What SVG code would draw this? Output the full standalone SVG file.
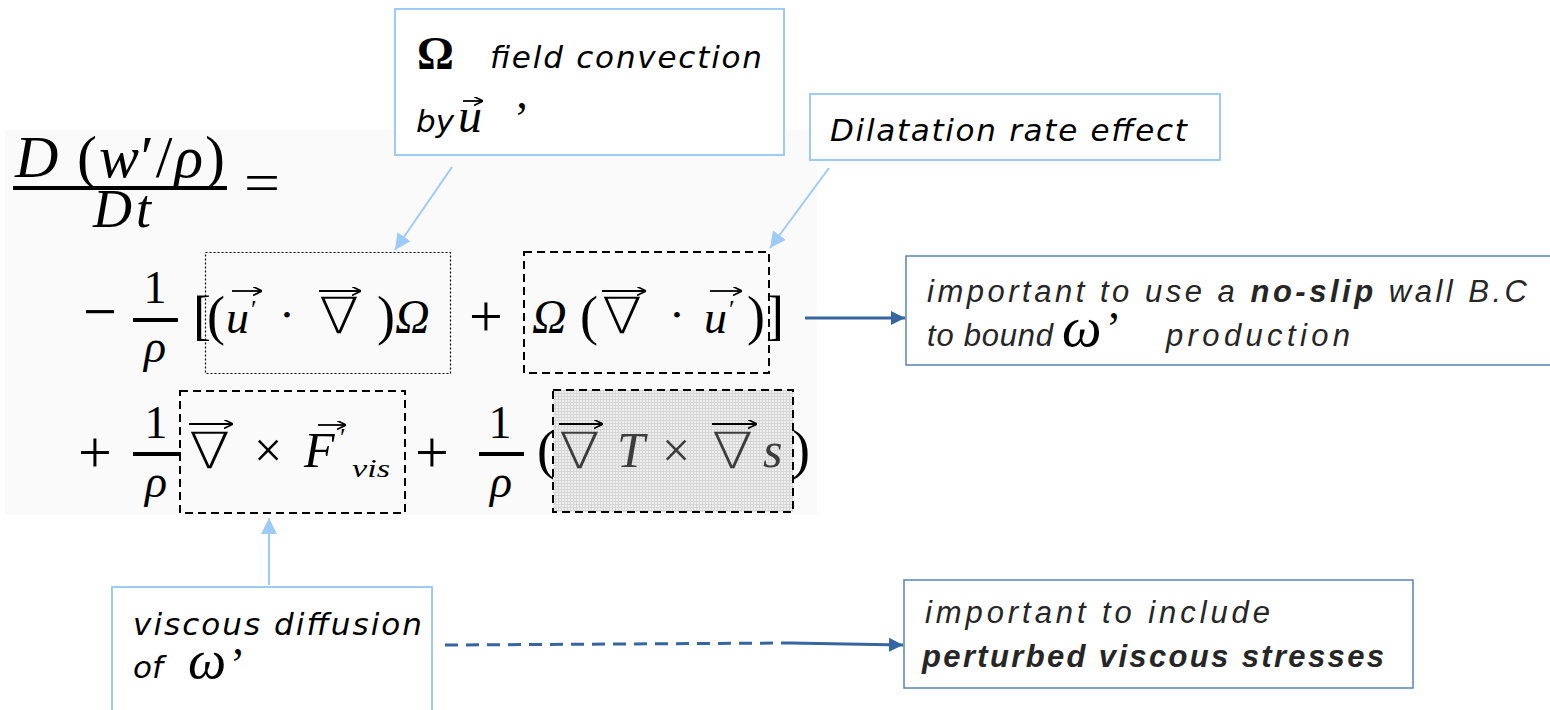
<svg xmlns="http://www.w3.org/2000/svg" width="1550" height="710" viewBox="0 0 1550 710">
  <style>
    .lbl { font-family: "DejaVu Sans", "Liberation Sans", sans-serif; font-style: oblique; font-size: 31px; fill: #000; }
    .note { font-family: "Liberation Sans", "Arial", sans-serif; font-style: italic; font-size: 31px; fill: #262626; }
    .b { font-weight: bold; }
    .m { font-family: "Liberation Serif", "DejaVu Serif", serif; fill: #000; }
    .mi { font-family: "Liberation Serif", "DejaVu Serif", serif; font-style: italic; fill: #000; }
    .nab { font-family: "DejaVu Sans", "Liberation Serif", sans-serif; font-weight: 200; font-size: 50px; }
    .grey { fill: #3c3c3c; }
    .lightbox { fill: #fff; stroke: #9ecbf6; stroke-width: 2; }
    .darkbox { fill: #fff; stroke: #5a82b5; stroke-width: 1.5; }
    .dashbox { fill: none; stroke: #000; stroke-width: 2; stroke-dasharray: 8 5; }
    .dotbox { fill: none; stroke: #000; stroke-width: 1.2; stroke-dasharray: 2 2; }
    .vec { stroke: #000; stroke-width: 1.8; fill: none; }
    .bar { fill: #000; }
    .lc { stroke: #9ecbf6; stroke-width: 2; fill: none; }
    .dc { stroke: #3566a0; stroke-width: 3; fill: none; }
  </style>
  <defs>
    <marker id="headLight" viewBox="0 0 10 10" refX="10" refY="5" markerWidth="16" markerHeight="16" markerUnits="userSpaceOnUse" orient="auto">
      <path d="M0,0 L10,5 L0,10 z" fill="#9ecbf6"/>
    </marker>
    <marker id="headDark" viewBox="0 0 10 10" refX="10" refY="5" markerWidth="14" markerHeight="14" markerUnits="userSpaceOnUse" orient="auto">
      <path d="M0,0 L10,5 L0,10 z" fill="#3566a0"/>
    </marker>
    <marker id="vhead" viewBox="0 0 10 10" refX="10" refY="5" markerWidth="9" markerHeight="9" markerUnits="userSpaceOnUse" orient="auto">
      <path d="M0,0 L10,5 L0,10" fill="none" stroke="#000" stroke-width="1.8"/>
    </marker>
    <pattern id="grid" width="3" height="3" patternUnits="userSpaceOnUse">
      <rect width="3" height="3" fill="#eeeeee"/>
      <path d="M0,0.5 H3 M0.5,0 V3" stroke="#d6d6d6" stroke-width="1"/>
    </pattern>
  </defs>

  <rect width="1550" height="710" fill="#fff"/>

  <!-- equation: D(w'/rho)/Dt = ... -->
  <g id="equation">
    <rect x="5" y="130" width="812" height="385" fill="#fafafa"/>

    <!-- left-hand side -->
    <text class="m" x="15" y="177" font-size="60" textLength="210"><tspan class="mi">D</tspan> (<tspan class="mi">w</tspan>′/<tspan class="mi">ρ</tspan>)</text>
    <rect class="bar" x="13" y="186" width="214" height="4"/>
    <text class="mi" x="93" y="227" font-size="54" textLength="58">Dt</text>
    <text class="m" x="244" y="202" font-size="56" textLength="36" lengthAdjust="spacingAndGlyphs">=</text>

    <!-- row 2 -->
    <text class="m" x="100" y="333" font-size="64" text-anchor="middle" textLength="34" lengthAdjust="spacingAndGlyphs">−</text>
    <text class="m" x="155" y="303" font-size="46" text-anchor="middle">1</text>
    <rect class="bar" x="133" y="318" width="45" height="4"/>
    <text class="mi" x="155" y="362" font-size="46" text-anchor="middle">ρ</text>
    <text class="m" x="193" y="334" font-size="54">[</text>

    <g id="term-convection">
      <text class="m" x="207" y="334" font-size="54">(</text>
      <text class="mi" x="226" y="333" font-size="46">u</text>
      <text class="m" x="251" y="318" font-size="26">′</text>
      <path class="vec" d="M232,291 H262" marker-end="url(#vhead)"/>
      <text class="m" x="287" y="323" font-size="24" text-anchor="middle">•</text>
      <text class="nab" x="319" y="333" textLength="40" lengthAdjust="spacingAndGlyphs">∇</text>
      <path class="vec" d="M319,291 H361" marker-end="url(#vhead)"/>
      <text class="m" x="377" y="334" font-size="54">)</text>
      <text class="mi" x="395" y="333" font-size="48">Ω</text>
      <rect class="dotbox" x="205.5" y="252.5" width="245" height="121"/>
    </g>

    <text class="m" x="486" y="336" font-size="60" text-anchor="middle">+</text>

    <g id="term-dilatation">
      <text class="mi" x="532" y="333" font-size="48">Ω</text>
      <text class="m" x="580" y="334" font-size="54">(</text>
      <text class="nab" x="602" y="333" textLength="40" lengthAdjust="spacingAndGlyphs">∇</text>
      <path class="vec" d="M602,291 H646" marker-end="url(#vhead)"/>
      <text class="m" x="677" y="323" font-size="24" text-anchor="middle">•</text>
      <text class="mi" x="704" y="333" font-size="46">u</text>
      <text class="m" x="729" y="318" font-size="26">′</text>
      <path class="vec" d="M710,291 H742" marker-end="url(#vhead)"/>
      <text class="m" x="747" y="334" font-size="54">)</text>
      <rect class="dashbox" x="524" y="252" width="245" height="121"/>
    </g>
    <text class="m" x="766" y="334" font-size="54">]</text>

    <!-- row 3 -->
    <text class="m" x="95" y="472" font-size="60" text-anchor="middle">+</text>
    <text class="m" x="156" y="438" font-size="46" text-anchor="middle">1</text>
    <rect class="bar" x="133" y="452" width="48" height="4"/>
    <text class="mi" x="156" y="497" font-size="46" text-anchor="middle">ρ</text>

    <g id="term-viscous">
      <text class="nab" x="189" y="468" textLength="41" lengthAdjust="spacingAndGlyphs">∇</text>
      <path class="vec" d="M189,424 H233" marker-end="url(#vhead)"/>
      <text class="m" x="268" y="467" font-size="50" text-anchor="middle">×</text>
      <text class="mi" x="304" y="467" font-size="50">F</text>
      <text class="m" x="340" y="446" font-size="26">′</text>
      <path class="vec" d="M318,425 H346" marker-end="url(#vhead)"/>
      <text class="mi" x="352" y="477" font-size="26" textLength="38" lengthAdjust="spacingAndGlyphs">vis</text>
      <rect class="dashbox" x="180" y="391" width="225" height="122"/>
    </g>

    <text class="m" x="432" y="472" font-size="60" text-anchor="middle">+</text>
    <text class="m" x="500" y="438" font-size="46" text-anchor="middle">1</text>
    <rect class="bar" x="479" y="452" width="45" height="4"/>
    <text class="mi" x="501" y="497" font-size="46" text-anchor="middle">ρ</text>
    <text class="m" x="537" y="468" font-size="54">(</text>

    <g id="term-baroclinic">
      <rect x="553" y="390" width="240" height="122" fill="url(#grid)"/>
      <text class="nab grey" x="559" y="468" textLength="41" lengthAdjust="spacingAndGlyphs">∇</text>
      <path class="vec" d="M559,424 H603" marker-end="url(#vhead)" stroke="#3c3c3c"/>
      <text class="mi grey" x="617" y="467" font-size="50">T</text>
      <text class="m grey" x="676" y="467" font-size="50" text-anchor="middle">×</text>
      <text class="nab grey" x="712" y="468" textLength="41" lengthAdjust="spacingAndGlyphs">∇</text>
      <path class="vec" d="M712,424 H757" marker-end="url(#vhead)" stroke="#3c3c3c"/>
      <text class="mi grey" x="763" y="467" font-size="50">s</text>
      <rect class="dashbox" x="553" y="390" width="240" height="122"/>
    </g>
    <text class="m" x="792" y="468" font-size="54">)</text>
  </g>

  <!-- label: Omega field convection by u' -->
  <g id="label-convection">
    <rect class="lightbox" x="395" y="9" width="389" height="146"/>
    <text class="m" x="417" y="69" font-size="46" font-weight="bold">Ω</text>
    <text class="lbl" x="490" y="68" textLength="272">field convection</text>
    <text class="lbl" x="416" y="132">by</text>
    <text class="mi" x="458" y="132" font-size="48">u</text>
    <path class="vec" d="M463,101 H483" marker-end="url(#vhead)"/>
    <text class="m" x="514" y="134" font-size="46">’</text>
  </g>

  <!-- label: Dilatation rate effect -->
  <g id="label-dilatation">
    <rect class="lightbox" x="810" y="94" width="410" height="66"/>
    <text class="lbl" x="830" y="141" textLength="357">Dilatation rate effect</text>
  </g>

  <!-- label: viscous diffusion -->
  <g id="label-viscous">
    <rect class="lightbox" x="112" y="587" width="320" height="140"/>
    <text class="lbl" x="133" y="635" textLength="289">viscous diffusion</text>
    <text class="lbl" x="133" y="678">of</text>
    <text class="mi" x="188" y="678" font-size="54">ω</text>
    <text class="m" x="230" y="680" font-size="46">’</text>
  </g>

  <!-- note: no-slip wall -->
  <g id="note-noslip">
    <rect class="darkbox" x="906" y="256" width="680" height="109"/>
    <text class="note" x="927" y="302" textLength="600">important to use a <tspan class="b">no-slip</tspan> wall B.C</text>
    <text class="note" x="927" y="346" textLength="126">to bound</text>
    <text class="mi" x="1062" y="346" font-size="56" fill="#262626">ω</text>
    <text class="m" x="1106" y="344" font-size="46" fill="#262626">’</text>
    <text class="note" x="1166" y="346" textLength="184">production</text>
  </g>

  <!-- note: perturbed viscous stresses -->
  <g id="note-stresses">
    <rect class="darkbox" x="904" y="580" width="509" height="108"/>
    <text class="note" x="925" y="623" textLength="345">important to include</text>
    <text class="note b" x="922" y="667" textLength="462">perturbed viscous stresses</text>
  </g>

  <!-- connectors -->
  <g id="connectors">
    <path class="lc" d="M452,167 L395,250" marker-end="url(#headLight)"/>
    <path class="lc" d="M829,168 L770,248" marker-end="url(#headLight)"/>
    <path class="lc" d="M269,585 L269,518" marker-end="url(#headLight)"/>
    <path class="dc" d="M805,318 L905,318" marker-end="url(#headDark)"/>
    <path class="dc" d="M445,645 L790,643" stroke-dasharray="13 8"/>
    <path class="dc" d="M790,643 L903,645" marker-end="url(#headDark)"/>
  </g>
</svg>
